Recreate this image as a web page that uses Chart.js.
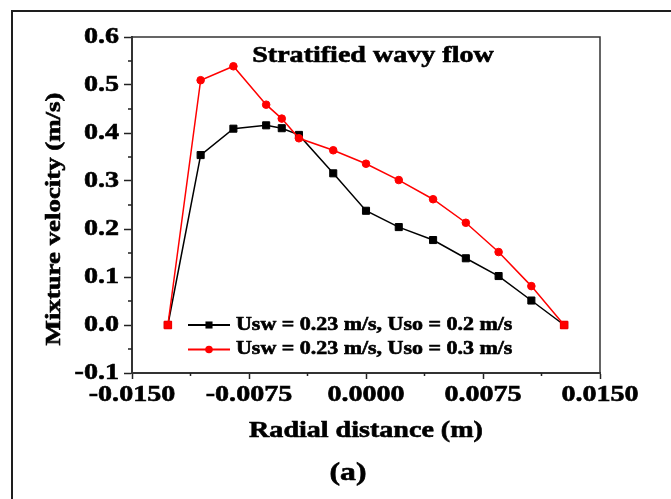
<!DOCTYPE html>
<html>
<head>
<meta charset="utf-8">
<title>Stratified wavy flow</title>
<script src="https://cdn.jsdelivr.net/npm/chart.js@4.4.1/dist/chart.umd.min.js"></script>
<style>
  html, body { margin: 0; padding: 0; background: #fff; overflow: hidden; }
  .frame { position: absolute; left: 11px; top: 10px; width: 720px; height: 560px; border: 2px solid #1e1e1e; }
  #chart { position: absolute; left: 0; top: 0; }
</style>
</head>
<body>
<div class="frame"></div>
<canvas id="chart" width="671" height="499"></canvas>
<script>
// radial positions (m) and mixture velocity (m/s)
const radialPos = [-0.0127, -0.0106, -0.0085, -0.0064, -0.0054, -0.0043, -0.0021, 0, 0.0021, 0.0043, 0.0064, 0.0085, 0.0106, 0.0127];
const velUso02 = [0, 0.354, 0.409, 0.416, 0.410, 0.396, 0.316, 0.238, 0.204, 0.177, 0.139, 0.102, 0.051, 0];
const velUso03 = [0, 0.510, 0.539, 0.459, 0.430, 0.389, 0.364, 0.336, 0.302, 0.262, 0.213, 0.152, 0.081, 0];
const seriesLabels = ['Usw = 0.23 m/s, Uso = 0.2 m/s', 'Usw = 0.23 m/s, Uso = 0.3 m/s'];
const xTicks = [-0.015, -0.0075, 0, 0.0075, 0.015];
const yTicks = [-0.1, 0, 0.1, 0.2, 0.3, 0.4, 0.5, 0.6];

const FONT = "'Liberation Serif', 'Times New Roman', serif";
const WIDEN = 1.22;   // the original bold Times is wider and heavier than ours

const canvas = document.getElementById('chart');
const ctx0 = canvas.getContext('2d');
const fill = ctx0.fillText;
const stroke = ctx0.strokeText;
ctx0.fillText = function (text, x, y) {
    this.save();
    this.translate(x, y);
    this.scale(WIDEN, 1);
    this.strokeStyle = this.fillStyle;
    this.lineWidth = 0.6;
    fill.call(this, text, 0, 0);
    stroke.call(this, text, 0, 0);
    this.restore();
};

const legendMarks = [{ style: 'rect', radius: 5 }, { style: 'circle', radius: 3.8 }];

const extras = {
    id: 'extras',
    afterDraw(chart) {
        const { ctx, chartArea: a, scales: { x, y } } = chart;
        ctx.save();
        // top + right side of the box
        ctx.strokeStyle = '#333';
        ctx.lineWidth = 1.5;
        ctx.beginPath();
        ctx.moveTo(a.left, a.top);
        ctx.lineTo(a.right, a.top);
        ctx.lineTo(a.right, a.bottom);
        ctx.stroke();

        // minor ticks halfway between the labelled ones
        ctx.strokeStyle = '#222';
        ctx.beginPath();
        for (let i = 0; i < xTicks.length - 1; i++) {
            const px = x.getPixelForValue((xTicks[i] + xTicks[i + 1]) / 2);
            ctx.moveTo(px, a.bottom);
            ctx.lineTo(px, a.bottom + 3);
        }
        for (let i = 0; i < yTicks.length - 1; i++) {
            const py = y.getPixelForValue((yTicks[i] + yTicks[i + 1]) / 2);
            ctx.moveTo(a.left, py);
            ctx.lineTo(a.left - 4, py);
        }
        ctx.stroke();

        ctx.fillStyle = '#000';
        ctx.textAlign = 'center';
        ctx.textBaseline = 'alphabetic';
        ctx.font = `bold 23px ${FONT}`;
        ctx.fillText('Stratified wavy flow', 373, 62);
        ctx.font = `bold 26px ${FONT}`;
        ctx.fillText('(a)', 348, 480);

        ctx.save();
        ctx.translate(60, 219);
        ctx.rotate(-Math.PI / 2);
        ctx.font = `bold 22px ${FONT}`;
        ctx.fillText('Mixture velocity (m/s)', 0, 0);
        ctx.restore();

        // legend: line with marker, inside the plot
        chart.data.datasets.forEach((ds, i) => {
            const ly = 325 + i * 24.5;
            ctx.strokeStyle = ds.borderColor;
            ctx.lineWidth = 2;
            ctx.beginPath();
            ctx.moveTo(188, ly);
            ctx.lineTo(230, ly);
            ctx.stroke();
            ctx.fillStyle = ds.borderColor;
            Chart.helpers.drawPoint(ctx, { pointStyle: legendMarks[i].style, radius: legendMarks[i].radius, borderWidth: 0 }, 209, ly);
            ctx.fillStyle = '#000';
            ctx.textAlign = 'left';
            ctx.textBaseline = 'middle';
            ctx.font = `bold 18px ${FONT}`;
            ctx.fillText(ds.label, 236, ly);
        });
        ctx.restore();
    }
};

const tickFont = { family: FONT, size: 23, weight: 'bold' };
const lastIdx = radialPos.length - 1;

new Chart(canvas, {
    type: 'line',
    data: {
        datasets: [{
            label: seriesLabels[0],
            data: radialPos.map((r, i) => ({ x: r, y: velUso02[i] })),
            borderColor: '#000',
            backgroundColor: '#000',
            borderWidth: 1.5,
            pointStyle: 'rect',
            pointRadius: 5,
            pointBorderWidth: 1,
            order: 1
        }, {
            label: seriesLabels[1],
            data: radialPos.map((r, i) => ({ x: r, y: velUso03[i] })),
            borderColor: '#ff0000',
            backgroundColor: '#ff0000',
            borderWidth: 1.5,
            // end points show as red squares in the figure
            pointStyle: c => (c.dataIndex === 0 || c.dataIndex === lastIdx) ? 'rect' : 'circle',
            pointRadius: c => (c.dataIndex === 0 || c.dataIndex === lastIdx) ? 5.3 : 3.8,
            pointBorderWidth: 1,
            order: 0
        }]
    },
    options: {
        responsive: false,
        animation: false,
        devicePixelRatio: 1,
        layout: { padding: { left: 0, top: 37, right: 71, bottom: 0 } },
        plugins: { legend: { display: false }, tooltip: { enabled: false } },
        scales: {
            x: {
                type: 'linear',
                min: -0.015,
                max: 0.015,
                afterBuildTicks: s => { s.ticks = xTicks.map(v => ({ value: v })); },
                afterFit: s => { s.height = 126; },
                ticks: {
                    autoSkip: false,
                    maxRotation: 0,
                    padding: 2,
                    color: '#000',
                    font: tickFont,
                    callback: v => (Math.abs(v) < 1e-9 ? 0 : v).toFixed(4)
                },
                grid: { drawOnChartArea: false, tickLength: 6, tickWidth: 1.5, tickColor: '#222' },
                border: { color: '#333', width: 2 },
                title: {
                    display: true,
                    text: 'Radial distance (m)',
                    color: '#000',
                    font: { family: FONT, size: 23, weight: 'bold' },
                    padding: { top: 0, bottom: 54 }
                }
            },
            y: {
                min: -0.1,
                max: 0.6,
                afterBuildTicks: s => { s.ticks = yTicks.map(v => ({ value: v })); },
                afterFit: s => { s.width = 132; },
                ticks: {
                    padding: 5,
                    color: '#000',
                    font: tickFont,
                    callback: v => v.toFixed(1)
                },
                grid: { drawOnChartArea: false, tickLength: 8, tickWidth: 1.5, tickColor: '#222' },
                border: { color: '#333', width: 2 }
            }
        }
    },
    plugins: [extras]
});
</script>
</body>
</html>
